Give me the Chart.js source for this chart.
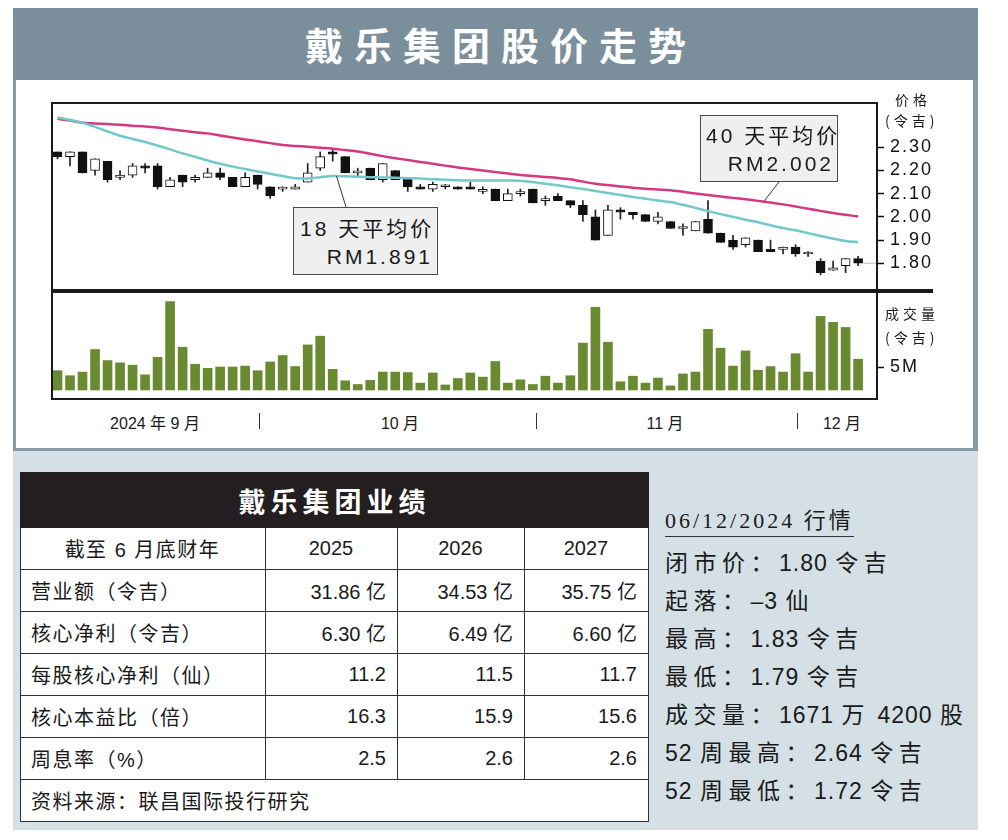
<!DOCTYPE html>
<html>
<head>
<meta charset="utf-8">
<script src="https://cdn.jsdelivr.net/npm/chart.js@4.4.1/dist/chart.umd.min.js"></script>
<style>
  body { margin:0; width:1008px; height:840px; position:relative; overflow:hidden; background:#fff;
         font-family:'Liberation Sans','Noto Sans CJK SC',sans-serif; color:#1a1a1a; }
  .abs { position:absolute; }
  #bg { left:13px; top:8px; width:965px; height:822px; background:#d5dfe6; }
  #titlebar { left:13px; top:8px; width:965px; height:72px; background:#7b8e9b; color:#fff; text-align:center;
              font:bold 38px 'Noto Sans CJK SC'; letter-spacing:11px; line-height:72px; text-indent:11px; }
  #panel { left:13px; top:80px; width:965px; height:371px; background:#fff; box-sizing:border-box;
           border:3px solid #8a9ba7; border-top:none; border-right-width:5px; }
  #frame { left:51px; top:102px; width:827px; height:298px; box-sizing:border-box; border:2px solid #1a1a1a; }
  #divider { left:51px; top:289px; width:882px; height:4px; background:#1a1a1a; }
  canvas { position:absolute; }
  .axt { font:14px 'Noto Sans CJK SC'; letter-spacing:4px; white-space:nowrap; }
  .anno { background:#efefef; border:1.5px solid #4a4a4a; box-sizing:border-box; font-size:21px; letter-spacing:3px; }
  .anno div { position:absolute; white-space:nowrap; }
  .mon { top:410px; font-size:16px; transform:translateX(-50%); white-space:nowrap; }
  .sep { top:413px; width:1px; height:16px; background:#333; }
  #tbl { left:20px; top:472px; width:628px; table-layout:fixed; border-collapse:collapse; background:#fff; font-size:20px; }
  #tbl td { border:1.5px solid #333; height:41px; padding:0 11px 0 10px; text-align:right; white-space:nowrap; }
  #tbl td:first-child { text-align:left; letter-spacing:1.5px; }
  #tbl tr.hd td { text-align:center; }
  #tbl th { background:#231f20; color:#fff; height:52px; font:bold 27px 'Noto Sans CJK SC'; letter-spacing:5px; border:1.5px solid #231f20; }
  #quote { left:665px; top:502px; font:22px 'Liberation Serif','Noto Sans CJK SC',serif; letter-spacing:3px;
           border-bottom:1.5px solid #333; padding:0 0 2px 0; }
  .st { left:665px; font-size:23px; letter-spacing:5.5px; white-space:nowrap; }
  .st span { letter-spacing:1px; }
</style>
</head>
<body>
<div id="bg" class="abs"></div>
<div id="titlebar" class="abs">戴乐集团股价走势</div>
<div id="panel" class="abs"></div>

<canvas id="priceChart" width="923" height="185" style="left:53px;top:104px"></canvas>
<canvas id="volChart" width="923" height="105" style="left:53px;top:293px"></canvas>
<div id="frame" class="abs"></div>
<div id="divider" class="abs"></div>

<div class="abs axt" style="left:895px;top:89px">价格</div>
<div class="abs axt" style="left:885px;top:110px">(令吉)</div>
<div class="abs axt" style="left:885px;top:303px">成交量</div>
<div class="abs axt" style="left:885px;top:327px">(令吉)</div>

<div id="anno18" class="abs anno" style="left:293px;top:207px;width:145px;height:68px">
  <div style="left:6px;top:4px" id="a18t"></div>
  <div style="right:4px;top:37px" id="a18v"></div>
</div>
<div id="anno40" class="abs anno" style="left:700px;top:115px;width:138px;height:67px">
  <div style="left:5px;top:3px" id="a40t"></div>
  <div style="right:3px;top:36px" id="a40v"></div>
</div>

<div id="months"></div>

<table id="tbl" class="abs">
  <colgroup><col style="width:245px"><col style="width:132px"><col style="width:127px"><col style="width:124px"></colgroup>
  <tr><th colspan="4">戴乐集团业绩</th></tr>
</table>

<div id="quote" class="abs">06/12/2024 行情</div>
<div id="stats"></div>

<script>
// ---- price data ----
var opens  = [2.28,2.26,2.28,2.20,2.24,2.17,2.18,2.22,2.22,2.13,2.18,2.16,2.17,2.19,2.17,2.13,2.18,2.13,2.12,2.12,
              2.15,2.21,2.28,2.26,2.19,2.21,2.16,2.20,2.17,2.13,2.12,2.13,2.13,2.13,2.11,2.12,2.07,2.10,2.12,2.07,
              2.09,2.07,2.05,2.00,1.92,2.03,2.02,2.01,1.98,1.98,1.95,1.94,1.99,1.93,1.90,1.88,1.90,1.86,1.86,1.87,
              1.84,1.81,1.77,1.79,1.82];
var highs  = [2.28,2.28,2.28,2.25,2.24,2.20,2.23,2.23,2.23,2.17,2.18,2.18,2.21,2.21,2.17,2.19,2.18,2.13,2.13,2.14,
              2.23,2.28,2.29,2.26,2.21,2.21,2.23,2.20,2.17,2.14,2.15,2.14,2.13,2.15,2.13,2.12,2.12,2.12,2.12,2.09,
              2.10,2.07,2.07,2.03,2.05,2.04,2.02,2.01,2.02,1.98,1.97,1.98,2.07,1.93,1.92,1.91,1.90,1.90,1.87,1.88,
              1.85,1.82,1.81,1.82,1.83];
var lows   = [2.25,2.22,2.19,2.18,2.15,2.16,2.17,2.19,2.12,2.13,2.13,2.15,2.17,2.16,2.13,2.13,2.12,2.08,2.11,2.12,
              2.15,2.20,2.24,2.19,2.17,2.16,2.15,2.16,2.11,2.12,2.11,2.12,2.12,2.12,2.10,2.07,2.07,2.09,2.06,2.05,
              2.07,2.04,1.98,1.90,1.92,1.99,1.99,1.98,1.97,1.95,1.92,1.94,1.93,1.89,1.86,1.87,1.85,1.85,1.84,1.83,
              1.83,1.75,1.77,1.76,1.79];
var closes = [2.26,2.28,2.19,2.25,2.16,2.18,2.22,2.21,2.13,2.16,2.15,2.17,2.19,2.17,2.13,2.17,2.14,2.09,2.12,2.13,
              2.19,2.26,2.27,2.19,2.19,2.16,2.23,2.16,2.13,2.12,2.14,2.13,2.12,2.12,2.11,2.07,2.10,2.10,2.06,2.07,
              2.07,2.05,2.01,1.90,2.03,2.02,2.01,1.98,2.00,1.95,1.95,1.98,1.93,1.89,1.87,1.91,1.85,1.85,1.87,1.84,
              1.84,1.76,1.78,1.82,1.80];
var ma18 = [2.428,2.418,2.406,2.388,2.368,2.350,2.336,2.323,2.308,2.291,2.274,2.259,2.243,2.229,2.217,2.206,2.196,2.186,2.176,2.167,
            2.166,2.171,2.176,2.175,2.173,2.171,2.170,2.169,2.167,2.165,2.162,2.160,2.158,2.157,2.157,2.157,2.157,2.156,2.150,2.143,
            2.136,2.128,2.120,2.112,2.103,2.094,2.086,2.078,2.071,2.064,2.052,2.039,2.025,2.012,2.000,1.988,1.977,1.964,1.952,1.942,
            1.930,1.918,1.906,1.896,1.891];
var ma40 = [2.423,2.415,2.406,2.403,2.400,2.397,2.393,2.390,2.385,2.378,2.371,2.365,2.360,2.351,2.342,2.334,2.326,2.318,2.310,2.306,
            2.302,2.298,2.294,2.288,2.282,2.272,2.262,2.253,2.245,2.237,2.229,2.221,2.213,2.206,2.200,2.193,2.187,2.181,2.176,2.172,
            2.168,2.162,2.152,2.143,2.137,2.131,2.126,2.121,2.118,2.115,2.108,2.101,2.094,2.088,2.082,2.076,2.069,2.062,2.054,2.045,
            2.035,2.026,2.017,2.009,2.002];
// volume, millions of shares
var volumes = [4.2,3.1,3.9,8.8,6.4,5.9,5.4,3.3,7.1,19.2,9.3,5.6,4.7,5.0,5.0,5.2,4.2,6.1,7.5,5.1,
               9.8,11.7,4.5,2.0,1.2,2.1,3.9,3.9,3.8,1.5,3.7,1.1,2.5,3.7,2.8,6.2,1.5,2.2,1.2,3.0,
               1.5,3.1,10.2,18.0,10.4,1.8,3.0,1.5,2.6,0.9,3.5,3.9,13.2,9.1,5.2,8.5,4.3,5.1,3.9,7.9,
               3.9,16.0,14.7,13.6,6.7];
var priceTicks = [1.80,1.90,2.00,2.10,2.20,2.30];
var volTicks = [5];
var monthLabels = ['2024 年 9 月','10 月','11 月','12 月'];
var maNotes = [['18 天平均价','RM1.891'],['40 天平均价','RM2.002']];

var tableHead = ['截至 6 月底财年','2025','2026','2027'];
var tableRows = [
  ['营业额（令吉）','31.86 亿','34.53 亿','35.75 亿'],
  ['核心净利（令吉）','6.30 亿','6.49 亿','6.60 亿'],
  ['每股核心净利（仙）','11.2','11.5','11.7'],
  ['核心本益比（倍）','16.3','15.9','15.6'],
  ['周息率（%）','2.5','2.6','2.6']
];
var tableSource = '资料来源：联昌国际投行研究';
var stats = ['闭市价：1.80 令吉','起落：–3 仙','最高：1.83 令吉','最低：1.79 令吉',
             '成交量：1671 万 4200 股','52 周最高：2.64 令吉','52 周最低：1.72 令吉'];

// ---- page text ----
document.getElementById('a18t').textContent = maNotes[0][0];
document.getElementById('a18v').textContent = maNotes[0][1];
document.getElementById('a40t').textContent = maNotes[1][0];
document.getElementById('a40v').textContent = maNotes[1][1];

var monX = [155, 400, 665, 842];
var sepX = [259, 536, 797];
var mh = '';
monthLabels.forEach(function (m, i) { mh += '<div class="abs mon" style="left:' + monX[i] + 'px">' + m + '</div>'; });
sepX.forEach(function (x) { mh += '<div class="abs sep" style="left:' + x + 'px"></div>'; });
document.getElementById('months').innerHTML = mh;

var tbl = document.getElementById('tbl');
var th = '<tr class="hd">' + tableHead.map(function (t) { return '<td>' + t + '</td>'; }).join('') + '</tr>';
tableRows.forEach(function (r) {
  th += '<tr>' + r.map(function (t) { return '<td>' + t + '</td>'; }).join('') + '</tr>';
});
th += '<tr><td colspan="4" style="text-align:left">' + tableSource + '</td></tr>';
tbl.insertAdjacentHTML('beforeend', th);

var sh = '';
stats.forEach(function (s, i) {
  var t = s.replace(/( ?[0-9.–\-]+ ?)/g, '<span>$1</span>');
  sh += '<div class="abs st" style="top:' + (544 + i * 38) + 'px">' + t + '</div>';
});
document.getElementById('stats').innerHTML = sh;

// ---- charts ----
var xMin = 0.64, xMax = 66.43;
function pts(arr) { return arr.map(function (v, i) { return { x: i + 1, y: v }; }); }

var spacing = { id: 'spacing', beforeDraw: function (c) { c.ctx.letterSpacing = '2px'; } };

var leaders = {
  id: 'leaders',
  afterDatasetsDraw: function (c) {
    var ctx = c.ctx, xs = c.scales.x, ys = c.scales.y;
    ctx.save();
    ctx.strokeStyle = '#333';
    ctx.lineWidth = 1;
    ctx.beginPath();
    ctx.moveTo(xs.getPixelForValue(23.3), ys.getPixelForValue(ma18[22]));
    ctx.lineTo(346 - 53, 207 - 104);
    ctx.moveTo(xs.getPixelForValue(57.5), ys.getPixelForValue(ma40[56]));
    ctx.lineTo(779 - 53, 182 - 104);
    ctx.stroke();
    ctx.restore();
  }
};

function noPad(s) { s.width = 100; s.paddingTop = 0; s.paddingBottom = 0; }

var ctx = document.getElementById('priceChart').getContext('2d');
var priceChart = new Chart(ctx, {
  type: 'bar',
  data: {
    datasets: [{
      label: 'wick',
      data: lows.map(function (l, i) { return { x: i + 1, y: [l, highs[i]] }; }),
      backgroundColor: '#222',
      barThickness: 1,
      grouped: false,
      order: 4
    }, {
      label: 'body',
      data: opens.map(function (o, i) { return { x: i + 1, y: [o, closes[i]] }; }),
      backgroundColor: function (c) { var i = c.dataIndex; return closes[i] >= opens[i] ? '#ffffff' : '#111111'; },
      borderColor: '#111',
      borderWidth: 1,
      borderSkipped: false,
      barThickness: 9,
      minBarLength: 2,
      grouped: false,
      order: 3
    }, {
      type: 'line',
      label: '18 天平均价',
      data: pts(ma18),
      borderColor: '#72c9cc',
      borderWidth: 2.5,
      pointRadius: 0,
      tension: 0.3,
      order: 1
    }, {
      type: 'line',
      label: '40 天平均价',
      data: pts(ma40),
      borderColor: '#d5387e',
      borderWidth: 2.5,
      pointRadius: 0,
      tension: 0.3,
      order: 1
    }, {
      type: 'line',
      label: 'last',
      data: [{ x: 65.4, y: closes[64] }, { x: xMax, y: closes[64] }],
      borderColor: '#e9bf98',
      borderWidth: 1.2,
      pointRadius: 0,
      order: 2
    }]
  },
  options: {
    responsive: false,
    animation: false,
    layout: { padding: 0, autoPadding: false },
    plugins: { legend: { display: false }, tooltip: { enabled: false } },
    scales: {
      x: { type: 'linear', min: xMin, max: xMax, offset: false, display: false },
      y: {
        position: 'right', min: 1.6892, max: 2.4866,
        afterBuildTicks: function (s) { s.ticks = priceTicks.map(function (v) { return { value: v }; }); },
        afterFit: noPad,
        grid: { drawOnChartArea: false, tickLength: 8, tickColor: '#111', tickWidth: 1.5 },
        border: { display: false },
        ticks: { color: '#111', padding: 6, font: { family: 'Liberation Sans', size: 18 },
                 callback: function (v) { return v.toFixed(2); } }
      }
    }
  },
  plugins: [spacing, leaders]
});

var vctx = document.getElementById('volChart').getContext('2d');
var volChart = new Chart(vctx, {
  type: 'bar',
  data: {
    datasets: [{
      label: '成交量',
      data: pts(volumes),
      backgroundColor: '#6a8a31',
      barThickness: 9,
      grouped: false
    }]
  },
  options: {
    responsive: false,
    animation: false,
    layout: { padding: 0, autoPadding: false },
    plugins: { legend: { display: false }, tooltip: { enabled: false } },
    scales: {
      x: { type: 'linear', min: xMin, max: xMax, offset: false, display: false },
      y: {
        position: 'right', min: -1.74, max: 21.09,
        afterBuildTicks: function (s) { s.ticks = volTicks.map(function (v) { return { value: v }; }); },
        afterFit: noPad,
        grid: { drawOnChartArea: false, tickLength: 8, tickColor: '#111', tickWidth: 1.5 },
        border: { display: false },
        ticks: { color: '#111', padding: 6, font: { family: 'Liberation Sans', size: 18 },
                 callback: function (v) { return v + 'M'; } }
      }
    }
  },
  plugins: [spacing]
});
</script>
</body>
</html>
